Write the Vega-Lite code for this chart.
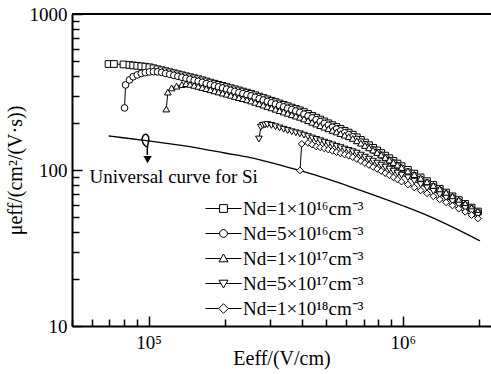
{
  "$schema": "https://vega.github.io/schema/vega-lite/v6.json",
  "width": 419,
  "height": 312,
  "autosize": {"type": "none"},
  "padding": {"left": 72, "top": 14, "right": 0, "bottom": 48},
  "background": "white",
  "config": {"view": {"stroke": null}, "font": "Liberation Serif"},
  "layer": [
    {
      "encoding": {
        "x": {
          "field": "E", "type": "quantitative",
          "scale": {"type": "log", "domain": [50000, 2220000]},
          "axis": {
            "values": [50000, 60000, 70000, 80000, 90000, 100000, 200000, 300000, 400000, 500000, 600000, 700000, 800000, 900000, 1000000, 2000000],
            "labelExpr": "datum.value == 100000 ? '10⁵' : datum.value == 1000000 ? '10⁶' : ''",
            "tickSize": {"condition": {"test": "datum.value == 100000 || datum.value == 1000000", "value": -10}, "value": -7},
            "tickColor": "black", "tickWidth": 1.5,
            "domainColor": "black", "domainWidth": 2,
            "labelFont": "Liberation Serif", "labelFontSize": 19, "labelColor": "black", "labelPadding": 17,
            "labelFlush": false, "labelOverlap": false, "grid": false,
            "title": "Eeff/(V/cm)", "titleFont": "Liberation Serif", "titleFontSize": 20, "titleFontWeight": "normal", "titleColor": "black", "titlePadding": -7
          }
        },
        "y": {
          "field": "mu", "type": "quantitative",
          "scale": {"type": "log", "domain": [10, 1000]},
          "axis": {
            "values": [10, 20, 30, 40, 50, 60, 70, 80, 90, 100, 200, 300, 400, 500, 600, 700, 800, 900, 1000],
            "labelExpr": "datum.value == 10 ? '10' : datum.value == 100 ? '100' : datum.value == 1000 ? '1000' : ''",
            "tickSize": {"condition": {"test": "datum.value == 10 || datum.value == 100 || datum.value == 1000", "value": -10}, "value": -7},
            "tickColor": "black", "tickWidth": 1.5,
            "domainColor": "black", "domainWidth": 2,
            "labelFont": "Liberation Serif", "labelFontSize": 19, "labelColor": "black", "labelPadding": 15,
            "labelOverlap": false, "grid": false,
            "title": "μeff/(cm²/(V·s))", "titleFont": "Liberation Serif", "titleFontSize": 20, "titleFontWeight": "normal", "titleColor": "black", "titlePadding": 4
          }
        }
      },
      "layer": [
        {
          "data": {"values": [
            {"E": 69700, "mu": 165.2}, {"E": 79400, "mu": 161.0}, {"E": 100000, "mu": 153.5}, {"E": 125900, "mu": 145.9},
            {"E": 158500, "mu": 137.7}, {"E": 199500, "mu": 128.5}, {"E": 251200, "mu": 120.2}, {"E": 316200, "mu": 109.6},
            {"E": 398100, "mu": 98.6}, {"E": 501200, "mu": 87.9}, {"E": 631000, "mu": 77.4}, {"E": 794300, "mu": 67.8},
            {"E": 1000000, "mu": 59.0}, {"E": 1258900, "mu": 50.8}, {"E": 1584900, "mu": 42.7}, {"E": 2009000, "mu": 35.1}
          ]},
          "mark": {"type": "line", "color": "black", "strokeWidth": 1.3, "interpolate": "monotone"}
        },
        {
          "data": {"values": [
            {"i": 1, "E": 98200, "mu": 140.4}, {"i": 2, "E": 95000, "mu": 146.8}, {"i": 3, "E": 93700, "mu": 158.0},
            {"i": 4, "E": 96000, "mu": 171}, {"i": 5, "E": 99600, "mu": 169}, {"i": 6, "E": 100800, "mu": 155.7},
            {"i": 7, "E": 98650, "mu": 142.5}, {"i": 8, "E": 98900, "mu": 124.8}
          ]},
          "mark": {"type": "line", "color": "black", "strokeWidth": 1.5, "interpolate": "basis"},
          "encoding": {"order": {"field": "i", "type": "quantitative"}}
        },
        {
          "data": {"values": [{"E": 99100, "mu": 116.5}]},
          "mark": {"type": "point", "shape": "triangle-down", "filled": true, "color": "black", "size": 70, "opacity": 1}
        },
        {
          "data": {"values": [{"E": 58590, "mu": 82.5, "t": "Universal curve for Si"}]},
          "mark": {"type": "text", "align": "left", "baseline": "alphabetic", "font": "Liberation Serif", "fontSize": 19, "color": "black"},
          "encoding": {"text": {"field": "t"}}
        },
        {
          "data": {"name": "series"},
          "mark": {"type": "line", "color": "black", "strokeWidth": 1},
          "encoding": {"detail": {"field": "s"}}
        },
        {
          "data": {"name": "series"},
          "mark": {"type": "point", "filled": true, "fill": "white", "stroke": "black", "strokeWidth": 1, "size": 45, "opacity": 1},
          "encoding": {
            "shape": {"field": "s", "type": "nominal", "legend": null,
              "scale": {"domain": ["a", "b", "c", "d", "e"], "range": ["square", "circle", "triangle-up", "triangle-down", "diamond"]}}
          }
        }
      ]
    },
    {
      "data": {"values": [{}]},
      "mark": {"type": "rule", "color": "black", "strokeWidth": 2},
      "encoding": {"y": {"datum": 1000}}
    },
    {
      "data": {"values": [
        {"s": "Nd=1×10¹⁶cm⁻³"}, {"s": "Nd=5×10¹⁶cm⁻³"}, {"s": "Nd=1×10¹⁷cm⁻³"}, {"s": "Nd=5×10¹⁷cm⁻³"}, {"s": "Nd=1×10¹⁸cm⁻³"}
      ]},
      "mark": {"type": "point", "filled": false, "color": "black", "strokeWidth": 1, "size": 144, "clip": true},
      "encoding": {
        "x": {"datum": 1000, "type": "quantitative", "scale": {"type": "log", "domain": [50000, 2220000]}},
        "y": {"datum": 1, "type": "quantitative", "scale": {"type": "log", "domain": [10, 1000]}},
        "shape": {
          "field": "s", "type": "nominal",
          "scale": {
            "domain": ["Nd=1×10¹⁶cm⁻³", "Nd=5×10¹⁶cm⁻³", "Nd=1×10¹⁷cm⁻³", "Nd=5×10¹⁷cm⁻³", "Nd=1×10¹⁸cm⁻³"],
            "range": [
              "M-3,0H-0.65M0.65,0H3M-0.65,-0.65H0.65V0.65H-0.65Z",
              "M-3,0H-0.65M0.65,0H3M0.65,0A0.65,0.65,0,1,1,-0.65,0A0.65,0.65,0,1,1,0.65,0Z",
              "M-3,0H-0.43M0.43,0H3M0,-0.75L0.75,0.55L-0.75,0.55Z",
              "M-3,0H-0.43M0.43,0H3M0,0.75L0.75,-0.55L-0.75,-0.55Z",
              "M-3,0H-0.8M0.8,0H3M0,-0.8L0.8,0L0,0.8L-0.8,0Z"
            ]
          },
          "legend": {
            "title": null, "orient": "none", "legendX": 132, "legendY": 185,
            "symbolSize": 144, "symbolOffset": 10, "labelOffset": 10,
            "symbolOpacity": 1, "symbolStrokeColor": "black", "symbolStrokeWidth": 1,
            "labelFont": "Liberation Serif", "labelFontSize": 19, "labelColor": "black", "labelLimit": 300, "rowPadding": 5
          }
        }
      }
    }
  ],
  "resolve": {"scale": {"shape": "independent"}, "legend": {"shape": "independent"}},
  "datasets": {
    "series": [
      {"s":"a","E":69600,"mu":478},{"s":"a","E":73100,"mu":478},{"s":"a","E":79700,"mu":475},{"s":"a","E":84100,"mu":471},
      {"s":"a","E":87000,"mu":468},{"s":"a","E":90260,"mu":465.5},{"s":"a","E":93640,"mu":462},{"s":"a","E":97150,"mu":459.5},
      {"s":"a","E":100800,"mu":455.6},{"s":"a","E":104580,"mu":449},{"s":"a","E":108500,"mu":442.4},{"s":"a","E":112570,"mu":435.9},
      {"s":"a","E":116790,"mu":429.5},{"s":"a","E":121170,"mu":423.2},{"s":"a","E":125710,"mu":417},{"s":"a","E":130420,"mu":411},
      {"s":"a","E":135310,"mu":405},{"s":"a","E":140380,"mu":399},{"s":"a","E":145640,"mu":393.2},{"s":"a","E":151100,"mu":387.5},
      {"s":"a","E":156770,"mu":381.8},{"s":"a","E":162650,"mu":375.7},{"s":"a","E":168750,"mu":369.5},{"s":"a","E":175080,"mu":363.4},
      {"s":"a","E":181640,"mu":357.4},{"s":"a","E":188450,"mu":351.6},{"s":"a","E":195520,"mu":345.8},{"s":"a","E":202850,"mu":340.1},
      {"s":"a","E":210460,"mu":334.5},{"s":"a","E":218350,"mu":329},{"s":"a","E":226540,"mu":323.6},{"s":"a","E":235040,"mu":318.3},
      {"s":"a","E":243850,"mu":313.1},{"s":"a","E":252990,"mu":307.7},{"s":"a","E":262480,"mu":301.5},{"s":"a","E":272320,"mu":295.4},
      {"s":"a","E":282530,"mu":289.5},{"s":"a","E":293130,"mu":283.7},{"s":"a","E":304120,"mu":278},{"s":"a","E":315530,"mu":272.5},
      {"s":"a","E":327360,"mu":267},{"s":"a","E":339640,"mu":261.6},{"s":"a","E":352380,"mu":256.4},{"s":"a","E":365590,"mu":251.2},
      {"s":"a","E":379300,"mu":246.2},{"s":"a","E":393520,"mu":241.3},{"s":"a","E":408280,"mu":235.2},{"s":"a","E":423590,"mu":228.8},
      {"s":"a","E":439480,"mu":222.6},{"s":"a","E":455960,"mu":216.5},{"s":"a","E":473060,"mu":210.6},{"s":"a","E":490800,"mu":204.9},
      {"s":"a","E":509210,"mu":199.3},{"s":"a","E":528300,"mu":193.9},{"s":"a","E":548110,"mu":188.6},{"s":"a","E":568670,"mu":183.4},
      {"s":"a","E":590000,"mu":178.4},{"s":"a","E":612120,"mu":173.6},{"s":"a","E":635070,"mu":168.4},{"s":"a","E":658890,"mu":162},
      {"s":"a","E":683600,"mu":155.9},{"s":"a","E":709240,"mu":149.9},{"s":"a","E":735830,"mu":144.2},{"s":"a","E":763420,"mu":138.8},
      {"s":"a","E":792050,"mu":133.5},{"s":"a","E":821750,"mu":128.5},{"s":"a","E":852570,"mu":123.6},{"s":"a","E":884540,"mu":118.9},
      {"s":"a","E":917710,"mu":114.4},{"s":"a","E":952130,"mu":110},{"s":"a","E":987830,"mu":105.8},{"s":"a","E":1046400,"mu":100.2},
      {"s":"a","E":1108400,"mu":94.8},{"s":"a","E":1174100,"mu":89.6},{"s":"a","E":1243700,"mu":84.8},{"s":"a","E":1317500,"mu":80.2},
      {"s":"a","E":1395600,"mu":75.8},{"s":"a","E":1478300,"mu":71.7},{"s":"a","E":1566000,"mu":67.8},{"s":"a","E":1658800,"mu":64.1},
      {"s":"a","E":1757200,"mu":60.6},{"s":"a","E":1861400,"mu":57.4},{"s":"a","E":1971700,"mu":54.2},

      {"s":"b","E":80440,"mu":250},{"s":"b","E":81190,"mu":351},{"s":"b","E":84140,"mu":378},{"s":"b","E":87000,"mu":396},
      {"s":"b","E":90260,"mu":407},{"s":"b","E":93640,"mu":416},{"s":"b","E":97150,"mu":421},{"s":"b","E":100800,"mu":425},
      {"s":"b","E":104580,"mu":427},{"s":"b","E":108500,"mu":426},{"s":"b","E":112570,"mu":422},{"s":"b","E":116790,"mu":416},
      {"s":"b","E":121170,"mu":410.5},{"s":"b","E":125710,"mu":404.5},{"s":"b","E":130420,"mu":398.7},{"s":"b","E":135310,"mu":392.9},
      {"s":"b","E":140380,"mu":387},{"s":"b","E":145640,"mu":381.4},{"s":"b","E":151100,"mu":375.9},{"s":"b","E":156770,"mu":370.3},
      {"s":"b","E":162650,"mu":364.4},{"s":"b","E":168750,"mu":358.4},{"s":"b","E":175080,"mu":352.5},{"s":"b","E":181640,"mu":346.7},
      {"s":"b","E":188450,"mu":341.1},{"s":"b","E":195520,"mu":335.4},{"s":"b","E":202850,"mu":329.9},{"s":"b","E":210460,"mu":324.5},
      {"s":"b","E":218350,"mu":319.1},{"s":"b","E":226540,"mu":313.9},{"s":"b","E":235040,"mu":308.8},{"s":"b","E":243850,"mu":303.7},
      {"s":"b","E":252990,"mu":298.5},{"s":"b","E":262480,"mu":292.5},{"s":"b","E":272320,"mu":286.5},{"s":"b","E":282530,"mu":280.8},
      {"s":"b","E":293130,"mu":275.2},{"s":"b","E":304120,"mu":269.7},{"s":"b","E":315530,"mu":264.3},{"s":"b","E":327360,"mu":259},
      {"s":"b","E":339640,"mu":253.8},{"s":"b","E":352380,"mu":248.7},{"s":"b","E":365590,"mu":243.7},{"s":"b","E":379300,"mu":238.8},
      {"s":"b","E":393520,"mu":234.1},{"s":"b","E":408280,"mu":228.1},{"s":"b","E":423590,"mu":221.9},{"s":"b","E":439480,"mu":215.9},
      {"s":"b","E":455960,"mu":210},{"s":"b","E":473060,"mu":204.3},{"s":"b","E":490800,"mu":198.8},{"s":"b","E":509210,"mu":193.3},
      {"s":"b","E":528300,"mu":188.1},{"s":"b","E":548110,"mu":182.9},{"s":"b","E":568670,"mu":177.9},{"s":"b","E":590000,"mu":173},
      {"s":"b","E":612120,"mu":168.4},{"s":"b","E":635070,"mu":163.3},{"s":"b","E":658890,"mu":157.1},{"s":"b","E":683600,"mu":151.2},
      {"s":"b","E":709240,"mu":145.4},{"s":"b","E":735830,"mu":139.9},{"s":"b","E":763420,"mu":134.6},{"s":"b","E":792050,"mu":129.5},
      {"s":"b","E":821750,"mu":124.6},{"s":"b","E":852570,"mu":119.9},{"s":"b","E":884540,"mu":115.3},{"s":"b","E":917710,"mu":111},
      {"s":"b","E":952130,"mu":106.7},{"s":"b","E":987830,"mu":102.6},{"s":"b","E":1046400,"mu":97.4},{"s":"b","E":1108400,"mu":92.2},
      {"s":"b","E":1174100,"mu":87.3},{"s":"b","E":1243700,"mu":82.7},{"s":"b","E":1317500,"mu":78.3},{"s":"b","E":1395600,"mu":74.1},
      {"s":"b","E":1478300,"mu":70.1},{"s":"b","E":1566000,"mu":66.4},{"s":"b","E":1658800,"mu":62.8},{"s":"b","E":1757200,"mu":59.4},
      {"s":"b","E":1861400,"mu":56.4},{"s":"b","E":1971700,"mu":53.3},

      {"s":"c","E":117400,"mu":246},{"s":"c","E":119100,"mu":316},{"s":"c","E":123200,"mu":336},{"s":"c","E":128900,"mu":345},
      {"s":"c","E":135310,"mu":353},{"s":"c","E":140380,"mu":358},{"s":"c","E":145640,"mu":353.9},{"s":"c","E":151100,"mu":348.8},
      {"s":"c","E":156770,"mu":343.6},{"s":"c","E":162650,"mu":338.1},{"s":"c","E":168750,"mu":332.6},{"s":"c","E":175080,"mu":327.1},
      {"s":"c","E":181640,"mu":321.7},{"s":"c","E":188450,"mu":316.4},{"s":"c","E":195520,"mu":311.2},{"s":"c","E":202850,"mu":306.1},
      {"s":"c","E":210460,"mu":301.1},{"s":"c","E":218350,"mu":296.1},{"s":"c","E":226540,"mu":291.2},{"s":"c","E":235040,"mu":286.5},
      {"s":"c","E":243850,"mu":281.8},{"s":"c","E":252990,"mu":276.9},{"s":"c","E":262480,"mu":271.4},{"s":"c","E":272320,"mu":265.9},
      {"s":"c","E":282530,"mu":260.6},{"s":"c","E":293130,"mu":255.3},{"s":"c","E":304120,"mu":250.2},{"s":"c","E":315530,"mu":245.3},
      {"s":"c","E":327360,"mu":240.3},{"s":"c","E":339640,"mu":235.4},{"s":"c","E":352380,"mu":230.8},{"s":"c","E":365590,"mu":226.1},
      {"s":"c","E":379300,"mu":221.6},{"s":"c","E":393520,"mu":217.7},{"s":"c","E":408280,"mu":212.6},{"s":"c","E":423590,"mu":207.3},
      {"s":"c","E":439480,"mu":202.1},{"s":"c","E":455960,"mu":197},{"s":"c","E":473060,"mu":192.5},{"s":"c","E":490800,"mu":188.1},
      {"s":"c","E":509210,"mu":183.8},{"s":"c","E":528300,"mu":179.6},{"s":"c","E":548110,"mu":175.4},{"s":"c","E":568670,"mu":171.3},
      {"s":"c","E":590000,"mu":167.3},{"s":"c","E":612120,"mu":163.5},{"s":"c","E":635070,"mu":159.3},{"s":"c","E":658890,"mu":153.9},
      {"s":"c","E":683600,"mu":148.7},{"s":"c","E":709240,"mu":143.6},{"s":"c","E":735830,"mu":138.7},{"s":"c","E":763420,"mu":134.1},
      {"s":"c","E":792050,"mu":129.5},{"s":"c","E":821750,"mu":124.9},{"s":"c","E":852570,"mu":120.3},{"s":"c","E":884540,"mu":115.9},
      {"s":"c","E":917710,"mu":111.7},{"s":"c","E":952130,"mu":107.6},{"s":"c","E":987830,"mu":103.7},{"s":"c","E":1046400,"mu":98.5},
      {"s":"c","E":1108400,"mu":93.5},{"s":"c","E":1174100,"mu":88.5},{"s":"c","E":1243700,"mu":84},{"s":"c","E":1317500,"mu":79.6},
      {"s":"c","E":1395600,"mu":75.5},{"s":"c","E":1478300,"mu":71.6},{"s":"c","E":1566000,"mu":67.8},{"s":"c","E":1658800,"mu":64.2},
      {"s":"c","E":1757200,"mu":60.7},{"s":"c","E":1861400,"mu":57.5},{"s":"c","E":1971700,"mu":54.4},

      {"s":"d","E":271600,"mu":158},{"s":"d","E":276300,"mu":188},{"s":"d","E":281300,"mu":193},{"s":"d","E":286700,"mu":194.5},
      {"s":"d","E":293130,"mu":195.5},{"s":"d","E":304120,"mu":193},{"s":"d","E":315530,"mu":189.5},{"s":"d","E":327360,"mu":186},
      {"s":"d","E":339640,"mu":182.5},{"s":"d","E":352380,"mu":179},{"s":"d","E":365590,"mu":175.8},{"s":"d","E":379300,"mu":173.1},
      {"s":"d","E":393520,"mu":170.6},{"s":"d","E":408280,"mu":167.2},{"s":"d","E":423590,"mu":163.6},{"s":"d","E":439480,"mu":160.3},
      {"s":"d","E":455960,"mu":157},{"s":"d","E":473060,"mu":153.9},{"s":"d","E":490800,"mu":150.8},{"s":"d","E":509210,"mu":147.7},
      {"s":"d","E":528300,"mu":144.8},{"s":"d","E":548110,"mu":141.9},{"s":"d","E":568670,"mu":139},{"s":"d","E":590000,"mu":136.2},
      {"s":"d","E":612120,"mu":133.5},{"s":"d","E":635070,"mu":130.8},{"s":"d","E":658890,"mu":128.2},{"s":"d","E":683600,"mu":124.5},
      {"s":"d","E":709240,"mu":120.8},{"s":"d","E":735830,"mu":117.3},{"s":"d","E":763420,"mu":113.9},{"s":"d","E":792050,"mu":110.6},
      {"s":"d","E":821750,"mu":107.4},{"s":"d","E":852570,"mu":104.3},{"s":"d","E":884540,"mu":101.3},{"s":"d","E":917710,"mu":98.3},
      {"s":"d","E":952130,"mu":95.5},{"s":"d","E":987830,"mu":92.7},{"s":"d","E":1046400,"mu":89.2},{"s":"d","E":1108400,"mu":84.8},
      {"s":"d","E":1174100,"mu":80.6},{"s":"d","E":1243700,"mu":76.7},{"s":"d","E":1317500,"mu":73},{"s":"d","E":1395600,"mu":69.4},
      {"s":"d","E":1478300,"mu":66},{"s":"d","E":1566000,"mu":62.7},{"s":"d","E":1658800,"mu":59.6},{"s":"d","E":1757200,"mu":56.7},
      {"s":"d","E":1861400,"mu":54},{"s":"d","E":1971700,"mu":51.2},

      {"s":"e","E":394000,"mu":99.3},{"s":"e","E":400000,"mu":147},{"s":"e","E":423590,"mu":149},{"s":"e","E":439480,"mu":145.5},
      {"s":"e","E":455960,"mu":141.5},{"s":"e","E":473060,"mu":139.5},{"s":"e","E":490800,"mu":137.5},{"s":"e","E":509210,"mu":135.1},
      {"s":"e","E":528300,"mu":132.6},{"s":"e","E":548110,"mu":130.1},{"s":"e","E":568670,"mu":127.8},{"s":"e","E":590000,"mu":125.6},
      {"s":"e","E":612120,"mu":123.4},{"s":"e","E":635070,"mu":120.9},{"s":"e","E":658890,"mu":117.5},{"s":"e","E":683600,"mu":114.1},
      {"s":"e","E":709240,"mu":110.8},{"s":"e","E":735830,"mu":107.6},{"s":"e","E":763420,"mu":104.5},{"s":"e","E":792050,"mu":101.5},
      {"s":"e","E":821750,"mu":98.4},{"s":"e","E":852570,"mu":95.4},{"s":"e","E":884540,"mu":92.5},{"s":"e","E":917710,"mu":89.7},
      {"s":"e","E":952130,"mu":86.9},{"s":"e","E":987830,"mu":84.2},{"s":"e","E":1046400,"mu":80.7},{"s":"e","E":1108400,"mu":77.3},
      {"s":"e","E":1174100,"mu":73.9},{"s":"e","E":1243700,"mu":70.8},{"s":"e","E":1317500,"mu":67.8},{"s":"e","E":1395600,"mu":64.8},
      {"s":"e","E":1478300,"mu":62},{"s":"e","E":1566000,"mu":59.2},{"s":"e","E":1658800,"mu":56.5},{"s":"e","E":1757200,"mu":53.9},
      {"s":"e","E":1861400,"mu":51.4},{"s":"e","E":1971700,"mu":48.9}
    ]
  }
}
